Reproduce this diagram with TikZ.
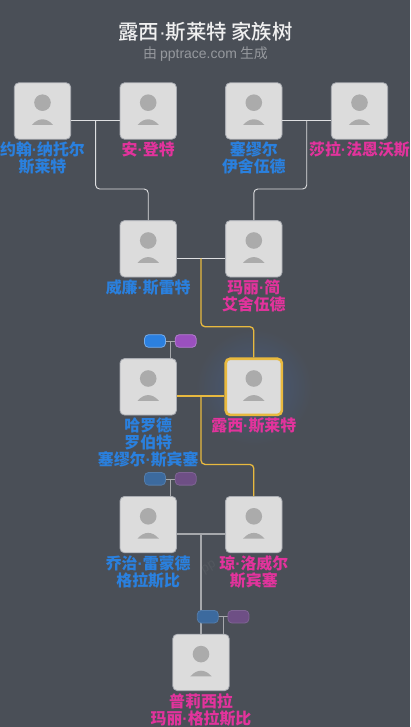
\documentclass[tikz,border=0pt]{standalone}
\usepackage{fontspec}
\setmainfont{Noto Sans CJK SC}
\newfontfamily\latinf{Liberation Sans}
\newfontfamily\titlef{Noto Sans CJK SC Medium}
\usetikzlibrary{calc}
\definecolor{bgc}{HTML}{4A4F57}
\definecolor{glowc}{HTML}{465A7C}
\definecolor{cardc}{HTML}{DCDCDC}
\definecolor{cardb}{HTML}{A9ACB2}
\definecolor{iconc}{HTML}{ABABAB}
\definecolor{bluen}{HTML}{2A80DE}
\definecolor{pinkn}{HTML}{E2339C}
\definecolor{gold}{HTML}{E8B93F}
\definecolor{linew}{HTML}{DEDFE1}
\definecolor{linef}{HTML}{A6A8AC}
\definecolor{pillb}{HTML}{2B80E0}
\definecolor{pillp}{HTML}{9A50BE}
\definecolor{pillbf}{HTML}{3C6A9E}
\definecolor{pillpf}{HTML}{6E4F85}
\newcommand{\dd}{{\latinf ·}}
\tikzset{x=1pt,y=-1pt,
  card/.style={draw=cardb,line width=0.8pt,fill=cardc,rounded corners=4.5pt,minimum width=56.4pt,minimum height=56.4pt,inner sep=0pt},
  lucy/.style={card,draw=gold,line width=2.6pt,minimum width=56.2pt,minimum height=56.2pt},
  nm/.style={font=\fontsize{15.9}{17}\selectfont\bfseries,align=center,inner sep=0pt,anchor=north},
  mn/.style={nm,text=bluen},
  fn/.style={nm,text=pinkn},
  wline/.style={draw=linew,line width=0.9pt,rounded corners=4pt},
  gline/.style={draw=gold,line width=1.3pt,rounded corners=4pt},
  fline/.style={draw=linef,line width=1.3pt},
  pill/.style={rounded corners=4pt,minimum width=21pt,minimum height=12.6pt,inner sep=0pt,line width=0.8pt},
  tick/.style={draw=linef,line width=0.6pt},
}
\newcommand{\avatar}[1]{%
  \fill[iconc] ($(#1)+(0,-8.3)$) circle (8.3pt);
  \fill[iconc] ($(#1)+(-10.7,14)$) .. controls ($(#1)+(-7,9.9)$) and ($(#1)+(-3.5,8.3)$) .. ($(#1)+(0,8.3)$) .. controls ($(#1)+(3.5,8.3)$) and ($(#1)+(7,9.9)$) .. ($(#1)+(10.7,14)$) -- cycle;
}
\begin{document}
\begin{tikzpicture}
\useasboundingbox (0,0) rectangle (410,727);
\fill[bgc] (0,0) rectangle (410,727);
% glow round the highlighted card
\shade[inner color=glowc,outer color=bgc] (254,387) circle (58pt);
\node[text=white!94!black,font=\fontsize{20.4}{21}\selectfont\titlef] (title) at (205.5,32) {露西\dd 斯莱特 家族树};
\node[text=white!42!bgc,font=\fontsize{13.95}{14}\selectfont] (sub) at (205.5,54) {由 {\latinf pptrace.com} 生成};
\node[text=white!5!bgc,rotate=30,font=\fontsize{13}{13}\selectfont\latinf,inner sep=0pt] (wm) at (209,568) {pp};

\coordinate (j1) at (95.6,120.4); \coordinate (j2) at (306.7,120.4);
\coordinate (j3) at (201,258.4); \coordinate (j4) at (201,396); \coordinate (j5) at (201,534);
% cards
\node[card] (a) at (42.5,111) {};
\node[card] (b) at (148.2,111) {};
\node[card] (c) at (253.8,111) {};
\node[card] (d) at (359.5,111) {};
\node[card] (e) at (148.2,248.8) {};
\node[card] (f) at (253.8,248.8) {};
\node[card] (g) at (148.2,386.8) {};
\node[lucy] (h) at (253.8,386.8) {};
\node[card] (i) at (148.2,524.6) {};
\node[card] (k) at (253.8,524.6) {};
\node[card] (l) at (201,662.4) {};
\foreach \n in {a,b,c,d,e,f,g,h,i,k,l}{\avatar{\n}}
% connectors
\draw[wline] (a.east|-j1) -- (b.west|-j1);
\draw[wline] (c.east|-j2) -- (d.west|-j2);
\draw[wline] (j1) -- (95.6,189) -- (148.2,189) -- (e.north);
\draw[wline] (j2) -- (306.7,189) -- (253.8,189) -- (f.north);
\draw[wline] (e.east|-j3) -- (f.west|-j3);
\draw[gline] (j3) -- (201,326.7) -- (253.8,326.7) -- (h.north);
\draw[gline] (g.east|-j4) -- (h.west|-j4);
\draw[gline] (j4) -- (201,464.4) -- (253.8,464.4) -- (k.north);
\draw[fline] (i.east|-j5) -- (k.west|-j5);
\draw[fline] (j5) -- (l.north-|j5);
% names
\node[mn] (na) at (42.5,141.7) {约翰\dd 纳托尔\\斯莱特};
\node[fn] (nb) at (148.2,141.7) {安\dd 登特};
\node[mn] (nc) at (253.8,141.7) {塞缪尔\\伊舍伍德};
\node[fn] (nd) at (359.5,141.7) {莎拉\dd 法恩沃斯};
\node[mn] (ne) at (148.2,279.3) {威廉\dd 斯雷特};
\node[fn] (nf) at (253.8,279.3) {玛丽\dd 简\\艾舍伍德};
\node[mn] (ng) at (148.2,417.3) {哈罗德\\罗伯特\\塞缪尔\dd 斯宾塞};
\node[fn] (nh) at (253.8,417.3) {露西\dd 斯莱特};
\node[mn] (ni) at (148.2,555.3) {乔治\dd 雷蒙德\\格拉斯比};
\node[fn] (nk) at (253.8,555.3) {琼\dd 洛威尔\\斯宾塞};
\node[fn] (nl) at (201,693.3) {普莉西拉\\玛丽\dd 格拉斯比};
% pills
\coordinate (t1) at (170.3,341);
\draw[tick] (155,341) -- (185.7,341);
\draw[tick] (t1) -- (t1|-g.north);
\node[pill,fill=pillb,draw=white!35!pillb] (p1) at (155,341) {};
\node[pill,fill=pillp,draw=white!25!pillp] (q1) at (185.7,341) {};
\coordinate (t2) at (170.3,478.8);
\draw[tick] (155,478.8) -- (185.7,478.8);
\draw[tick] (t2) -- (t2|-i.north);
\node[pill,fill=pillbf,draw=white!12!pillbf] (p2) at (155,478.8) {};
\node[pill,fill=pillpf,draw=white!12!pillpf] (q2) at (185.7,478.8) {};
\coordinate (t3) at (223,616.7);
\draw[tick] (207.8,616.7) -- (238.4,616.7);
\draw[tick] (t3) -- (t3|-l.north);
\node[pill,fill=pillbf,draw=white!12!pillbf] (p3) at (207.8,616.7) {};
\node[pill,fill=pillpf,draw=white!12!pillpf] (q3) at (238.4,616.7) {};
\end{tikzpicture}
\end{document}
